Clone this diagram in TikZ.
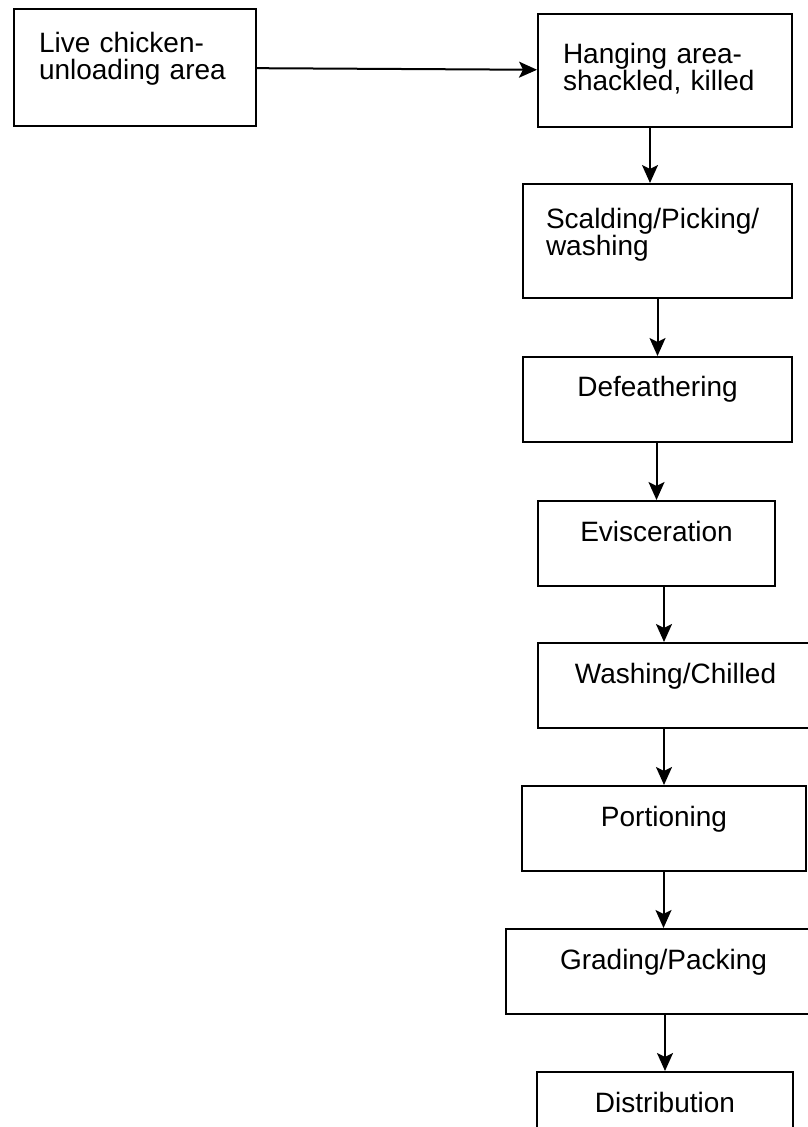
\documentclass[tikz,border=0pt]{standalone}
\usepackage{fontspec}
\setmainfont{Liberation Sans}
\usetikzlibrary{arrows.meta}

\begin{document}
\begin{tikzpicture}[x=0.5pt, y=-0.5pt,
  stepbox/.style={draw, line width=1pt, anchor=north west, inner sep=0pt,
                  font=\fontsize{14pt}{13.5pt}\selectfont, align=left},
  twoline/.style={inner xsep=12.5pt, inner ysep=0pt},
  oneline/.style={align=center, text height=10pt, text depth=12.5pt, inner ysep=10pt},
  arr/.style={-{Stealth[length=9pt, width=8pt, inset=2pt]}, line width=1pt}]
\useasboundingbox[fill=white] (0,0) rectangle (807,1127);
% start of the line, then the processing steps top to bottom
\node[stepbox, twoline, text width=96pt, text height=22pt, text depth=36.5pt] (live) at (13,8) {Live chicken-\\unloading area};
\node[stepbox, twoline, text width=102pt, text height=25pt, text depth=31.5pt] (hang) at (537,13) {Hanging area-\\shackled, killed};
\node[stepbox, twoline, inner xsep=11.5pt, text width=111.5pt, text height=22.5pt, text depth=34.5pt] (scald) at (522,183) {Scalding/Picking/\\washing};
\node[stepbox, oneline, minimum width=134.5pt] (defeath) at (522,356) {Defeathering};
\node[stepbox, oneline, minimum width=118.5pt] (evisc) at (537,500) {Evisceration};
\node[stepbox, oneline, minimum width=137.5pt] (wash) at (537,642) {Washing/Chilled};
\node[stepbox, oneline, minimum width=142pt] (portion) at (521,785) {Portioning};
\node[stepbox, oneline, minimum width=157.5pt] (grade) at (505,928) {Grading/Packing};
\node[stepbox, oneline, minimum width=128pt] (distr) at (536,1071) {Distribution};
\draw[arr] (live) -- (hang);
\draw[arr] ([xshift=-3.75pt]scald.north |- hang.south) -- ([xshift=-3.75pt]scald.north);
\draw[arr] (scald.south -| defeath.north) -- (defeath.north);
\draw[arr] (defeath.south -| evisc.north) -- (evisc.north);
\draw[arr] ([xshift=-5.75pt]wash.north |- evisc.south) -- ([xshift=-5.75pt]wash.north);
\draw[arr] (wash.south -| portion.north) -- (portion.north);
\draw[arr] (portion.south -| grade.north) -- (grade.north);
\draw[arr] (grade.south -| distr.north) -- (distr.north);
\end{tikzpicture}
\end{document}
